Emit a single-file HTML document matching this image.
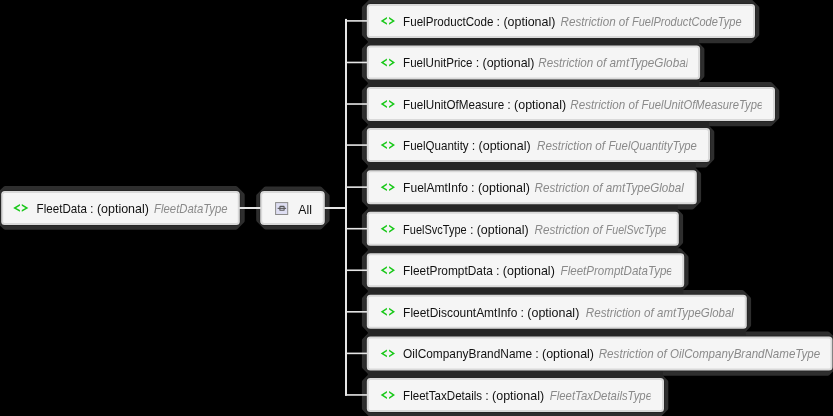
<!DOCTYPE html><html><head><meta charset="utf-8"><style>html,body{margin:0;padding:0;background:#000;width:833px;height:416px;overflow:hidden}svg{display:block;will-change:transform}text{font-family:"Liberation Sans",sans-serif}</style></head><body>
<svg width="833" height="416" viewBox="0 0 833 416">
<rect x="0" y="0" width="833" height="416" fill="#000"/>
<defs>
<clipPath id="c0"><rect x="366.8" y="3.90" width="375.70" height="34.0"/></clipPath>
<clipPath id="c1"><rect x="366.8" y="45.46" width="320.70" height="34.0"/></clipPath>
<clipPath id="c2"><rect x="366.8" y="87.02" width="394.90" height="34.0"/></clipPath>
<clipPath id="c3"><rect x="366.8" y="128.08" width="330.70" height="34.0"/></clipPath>
<clipPath id="c4"><rect x="366.8" y="170.14" width="317.70" height="34.0"/></clipPath>
<clipPath id="c5"><rect x="366.8" y="211.70" width="298.90" height="34.0"/></clipPath>
<clipPath id="c6"><rect x="366.8" y="253.26" width="304.40" height="34.0"/></clipPath>
<clipPath id="c7"><rect x="366.8" y="294.82" width="367.70" height="34.0"/></clipPath>
<clipPath id="c8"><rect x="366.8" y="336.38" width="454.20" height="34.0"/></clipPath>
<clipPath id="c9"><rect x="366.8" y="377.94" width="283.80" height="34.0"/></clipPath>
</defs>
<polygon points="5.33,188.40 235.67,188.40 242.20,194.94 242.20,220.67 235.67,227.20 5.33,227.20 -1.20,220.67 -1.20,194.94" fill="#2e2e2e" stroke="#2e2e2e" stroke-width="5.0" stroke-linejoin="round"/>
<polygon points="265.74,188.90 320.06,188.90 327.10,195.94 327.10,219.87 320.06,226.90 265.74,226.90 258.70,219.87 258.70,195.94" fill="#2e2e2e" stroke="#2e2e2e" stroke-width="5.0" stroke-linejoin="round"/>
<polygon points="370.94,1.50 750.26,1.50 756.80,8.04 756.80,34.16 750.26,40.70 370.94,40.70 364.40,34.16 364.40,8.04" fill="#2e2e2e" stroke="#2e2e2e" stroke-width="5.0" stroke-linejoin="round"/>
<polygon points="370.94,43.06 695.37,43.06 701.90,49.59 701.90,75.73 695.37,82.26 370.94,82.26 364.40,75.73 364.40,49.59" fill="#2e2e2e" stroke="#2e2e2e" stroke-width="5.0" stroke-linejoin="round"/>
<polygon points="370.94,84.62 770.26,84.62 776.80,91.16 776.80,117.29 770.26,123.82 370.94,123.82 364.40,117.29 364.40,91.16" fill="#2e2e2e" stroke="#2e2e2e" stroke-width="5.0" stroke-linejoin="round"/>
<polygon points="370.94,125.68 705.26,125.68 711.80,132.22 711.80,158.35 705.26,164.88 370.94,164.88 364.40,158.35 364.40,132.22" fill="#2e2e2e" stroke="#2e2e2e" stroke-width="5.0" stroke-linejoin="round"/>
<polygon points="370.94,167.74 692.06,167.74 698.60,174.28 698.60,200.41 692.06,206.94 370.94,206.94 364.40,200.41 364.40,174.28" fill="#2e2e2e" stroke="#2e2e2e" stroke-width="5.0" stroke-linejoin="round"/>
<polygon points="370.94,209.30 674.06,209.30 680.60,215.84 680.60,241.97 674.06,248.50 370.94,248.50 364.40,241.97 364.40,215.84" fill="#2e2e2e" stroke="#2e2e2e" stroke-width="5.0" stroke-linejoin="round"/>
<polygon points="370.94,250.86 679.47,250.86 686.00,257.40 686.00,283.52 679.47,290.06 370.94,290.06 364.40,283.52 364.40,257.40" fill="#2e2e2e" stroke="#2e2e2e" stroke-width="5.0" stroke-linejoin="round"/>
<polygon points="370.94,292.42 742.06,292.42 748.60,298.96 748.60,325.08 742.06,331.62 370.94,331.62 364.40,325.08 364.40,298.96" fill="#2e2e2e" stroke="#2e2e2e" stroke-width="5.0" stroke-linejoin="round"/>
<polygon points="370.94,333.98 827.76,333.98 834.30,340.52 834.30,366.64 827.76,373.18 370.94,373.18 364.40,366.64 364.40,340.52" fill="#2e2e2e" stroke="#2e2e2e" stroke-width="5.0" stroke-linejoin="round"/>
<polygon points="370.94,375.54 659.26,375.54 665.80,382.08 665.80,408.20 659.26,414.74 370.94,414.74 364.40,408.20 364.40,382.08" fill="#2e2e2e" stroke="#2e2e2e" stroke-width="5.0" stroke-linejoin="round"/>
<rect x="0.70" y="190.40" width="239.60" height="35.00" rx="4.0" fill="none" stroke="#262626" stroke-width="1"/>
<rect x="259.70" y="190.40" width="65.60" height="35.00" rx="4.5" fill="none" stroke="#262626" stroke-width="1"/>
<rect x="366.30" y="3.40" width="389.20" height="35.00" rx="4.0" fill="none" stroke="#262626" stroke-width="1"/>
<rect x="366.30" y="44.96" width="334.30" height="35.00" rx="4.0" fill="none" stroke="#262626" stroke-width="1"/>
<rect x="366.30" y="86.52" width="409.20" height="35.00" rx="4.0" fill="none" stroke="#262626" stroke-width="1"/>
<rect x="366.30" y="127.58" width="344.20" height="35.00" rx="4.0" fill="none" stroke="#262626" stroke-width="1"/>
<rect x="366.30" y="169.64" width="331.00" height="35.00" rx="4.0" fill="none" stroke="#262626" stroke-width="1"/>
<rect x="366.30" y="211.20" width="313.00" height="35.00" rx="4.0" fill="none" stroke="#262626" stroke-width="1"/>
<rect x="366.30" y="252.76" width="318.40" height="35.00" rx="4.0" fill="none" stroke="#262626" stroke-width="1"/>
<rect x="366.30" y="294.32" width="381.00" height="35.00" rx="4.0" fill="none" stroke="#262626" stroke-width="1"/>
<rect x="366.30" y="335.88" width="466.70" height="35.00" rx="4.0" fill="none" stroke="#262626" stroke-width="1"/>
<rect x="366.30" y="377.44" width="298.20" height="35.00" rx="4.0" fill="none" stroke="#262626" stroke-width="1"/>
<rect x="367.80" y="37.90" width="331.30" height="7.56" fill="#262626"/>
<rect x="367.80" y="79.46" width="331.30" height="7.56" fill="#262626"/>
<rect x="367.80" y="121.02" width="341.20" height="7.06" fill="#262626"/>
<rect x="367.80" y="162.08" width="328.00" height="8.06" fill="#262626"/>
<rect x="367.80" y="204.14" width="310.00" height="7.56" fill="#262626"/>
<rect x="367.80" y="245.70" width="310.00" height="7.56" fill="#262626"/>
<rect x="367.80" y="287.26" width="315.40" height="7.56" fill="#262626"/>
<rect x="367.80" y="328.82" width="378.00" height="7.56" fill="#262626"/>
<rect x="367.80" y="370.38" width="295.20" height="7.56" fill="#262626"/>
<rect x="345" y="18.90" width="2" height="376.84" fill="#e6e6e6"/>
<rect x="238.80" y="207" width="22.40" height="2" fill="#e6e6e6"/>
<rect x="323.80" y="207" width="22.20" height="2" fill="#e6e6e6"/>
<rect x="345" y="20.10" width="22.80" height="1.6" fill="#e6e6e6"/>
<rect x="345" y="61.66" width="22.80" height="1.6" fill="#e6e6e6"/>
<rect x="345" y="103.22" width="22.80" height="1.6" fill="#e6e6e6"/>
<rect x="345" y="144.28" width="22.80" height="1.6" fill="#e6e6e6"/>
<rect x="345" y="186.34" width="22.80" height="1.6" fill="#e6e6e6"/>
<rect x="345" y="227.90" width="22.80" height="1.6" fill="#e6e6e6"/>
<rect x="345" y="269.46" width="22.80" height="1.6" fill="#e6e6e6"/>
<rect x="345" y="311.02" width="22.80" height="1.6" fill="#e6e6e6"/>
<rect x="345" y="352.58" width="22.80" height="1.6" fill="#e6e6e6"/>
<rect x="345" y="394.14" width="22.80" height="1.6" fill="#e6e6e6"/>
<rect x="1.20" y="190.90" width="238.60" height="34.00" rx="3.5" fill="#d9d9d9"/>
<rect x="3.20" y="192.90" width="234.60" height="30.00" rx="1.5" fill="#f5f5f5"/>
<rect x="260.20" y="190.90" width="64.60" height="34.00" rx="4" fill="#d9d9d9"/>
<rect x="262.20" y="192.90" width="60.60" height="30.00" rx="2" fill="#f5f5f5"/>
<rect x="366.80" y="3.90" width="388.20" height="34.00" rx="3.5" fill="#d9d9d9"/>
<rect x="368.80" y="5.90" width="384.20" height="30.00" rx="1.5" fill="#f5f5f5"/>
<rect x="366.80" y="45.46" width="333.30" height="34.00" rx="3.5" fill="#d9d9d9"/>
<rect x="368.80" y="47.46" width="329.30" height="30.00" rx="1.5" fill="#f5f5f5"/>
<rect x="366.80" y="87.02" width="408.20" height="34.00" rx="3.5" fill="#d9d9d9"/>
<rect x="368.80" y="89.02" width="404.20" height="30.00" rx="1.5" fill="#f5f5f5"/>
<rect x="366.80" y="128.08" width="343.20" height="34.00" rx="3.5" fill="#d9d9d9"/>
<rect x="368.80" y="130.08" width="339.20" height="30.00" rx="1.5" fill="#f5f5f5"/>
<rect x="366.80" y="170.14" width="330.00" height="34.00" rx="3.5" fill="#d9d9d9"/>
<rect x="368.80" y="172.14" width="326.00" height="30.00" rx="1.5" fill="#f5f5f5"/>
<rect x="366.80" y="211.70" width="312.00" height="34.00" rx="3.5" fill="#d9d9d9"/>
<rect x="368.80" y="213.70" width="308.00" height="30.00" rx="1.5" fill="#f5f5f5"/>
<rect x="366.80" y="253.26" width="317.40" height="34.00" rx="3.5" fill="#d9d9d9"/>
<rect x="368.80" y="255.26" width="313.40" height="30.00" rx="1.5" fill="#f5f5f5"/>
<rect x="366.80" y="294.82" width="380.00" height="34.00" rx="3.5" fill="#d9d9d9"/>
<rect x="368.80" y="296.82" width="376.00" height="30.00" rx="1.5" fill="#f5f5f5"/>
<rect x="366.80" y="336.38" width="465.70" height="34.00" rx="3.5" fill="#d9d9d9"/>
<rect x="368.80" y="338.38" width="461.70" height="30.00" rx="1.5" fill="#f5f5f5"/>
<rect x="366.80" y="377.94" width="297.20" height="34.00" rx="3.5" fill="#d9d9d9"/>
<rect x="368.80" y="379.94" width="293.20" height="30.00" rx="1.5" fill="#f5f5f5"/>
<polygon points="19.90,203.95 13.20,207.90 19.90,211.85 19.90,210.10 16.17,207.90 19.90,205.70" fill="#18c818"/>
<polygon points="21.80,203.95 28.35,207.90 21.80,211.85 21.80,210.10 25.45,207.90 21.80,205.70" fill="#18c818"/>
<text x="36.60" y="212.90" font-size="12.6" fill="#111" class="r" textLength="50.35" lengthAdjust="spacingAndGlyphs">FleetData</text>
<text x="91.85" y="212.90" font-size="12.6" fill="#111" text-anchor="middle">:</text>
<text x="96.90" y="212.90" font-size="12.6" fill="#111" class="r" textLength="52.00" lengthAdjust="spacingAndGlyphs">(optional)</text>
<text x="154.1" y="212.90" font-size="12.6" font-style="italic" fill="#8a8a8a" textLength="73.50" lengthAdjust="spacingAndGlyphs">FleetDataType</text>
<rect x="275.6" y="202.6" width="12.1" height="11.9" fill="#dedef2" stroke="#8a8a8a" stroke-width="1"/>
<rect x="279.9" y="206.4" width="4.2" height="3.9" rx="0.4" fill="none" stroke="#585858" stroke-width="1.1"/>
<line x1="277.6" y1="208.35" x2="286.1" y2="208.35" stroke="#585858" stroke-width="1.1"/>
<text x="298.3" y="213.90" font-size="12.6" fill="#111" textLength="13.60" lengthAdjust="spacingAndGlyphs">All</text>
<polygon points="386.90,16.95 380.70,20.90 386.90,24.85 386.90,23.10 383.45,20.90 386.90,18.70" fill="#18c818"/>
<polygon points="389.10,16.95 395.00,20.90 389.10,24.85 389.10,23.10 392.39,20.90 389.10,18.70" fill="#18c818"/>
<g clip-path="url(#c0)">
<text x="403.10" y="25.90" font-size="12.6" fill="#111" class="r" textLength="90.35" lengthAdjust="spacingAndGlyphs">FuelProductCode</text>
<text x="498.35" y="25.90" font-size="12.6" fill="#111" text-anchor="middle">:</text>
<text x="503.40" y="25.90" font-size="12.6" fill="#111" class="r" textLength="52.00" lengthAdjust="spacingAndGlyphs">(optional)</text>
<text x="560.60" y="25.90" font-size="12.6" font-style="italic" fill="#8a8a8a" textLength="68.00" lengthAdjust="spacingAndGlyphs">Restriction of</text>
<text x="631.90" y="25.90" font-size="12.6" font-style="italic" fill="#8a8a8a" textLength="109.70" lengthAdjust="spacingAndGlyphs">FuelProductCodeType</text>
</g>
<polygon points="386.90,58.51 380.70,62.46 386.90,66.41 386.90,64.66 383.45,62.46 386.90,60.26" fill="#18c818"/>
<polygon points="389.10,58.51 395.00,62.46 389.10,66.41 389.10,64.66 392.39,62.46 389.10,60.26" fill="#18c818"/>
<g clip-path="url(#c1)">
<text x="403.10" y="67.46" font-size="12.6" fill="#111" class="r" textLength="69.45" lengthAdjust="spacingAndGlyphs">FuelUnitPrice</text>
<text x="477.45" y="67.46" font-size="12.6" fill="#111" text-anchor="middle">:</text>
<text x="482.50" y="67.46" font-size="12.6" fill="#111" class="r" textLength="52.00" lengthAdjust="spacingAndGlyphs">(optional)</text>
<text x="538.30" y="67.46" font-size="12.6" font-style="italic" fill="#8a8a8a" textLength="68.00" lengthAdjust="spacingAndGlyphs">Restriction of</text>
<text x="609.60" y="67.46" font-size="12.6" font-style="italic" fill="#8a8a8a" textLength="78.70" lengthAdjust="spacingAndGlyphs">amtTypeGlobal</text>
</g>
<polygon points="386.90,100.07 380.70,104.02 386.90,107.97 386.90,106.22 383.45,104.02 386.90,101.82" fill="#18c818"/>
<polygon points="389.10,100.07 395.00,104.02 389.10,107.97 389.10,106.22 392.39,104.02 389.10,101.82" fill="#18c818"/>
<g clip-path="url(#c2)">
<text x="403.10" y="109.02" font-size="12.6" fill="#111" class="r" textLength="101.05" lengthAdjust="spacingAndGlyphs">FuelUnitOfMeasure</text>
<text x="509.05" y="109.02" font-size="12.6" fill="#111" text-anchor="middle">:</text>
<text x="514.10" y="109.02" font-size="12.6" fill="#111" class="r" textLength="52.00" lengthAdjust="spacingAndGlyphs">(optional)</text>
<text x="570.30" y="109.02" font-size="12.6" font-style="italic" fill="#8a8a8a" textLength="68.00" lengthAdjust="spacingAndGlyphs">Restriction of</text>
<text x="641.60" y="109.02" font-size="12.6" font-style="italic" fill="#8a8a8a" textLength="121.60" lengthAdjust="spacingAndGlyphs">FuelUnitOfMeasureType</text>
</g>
<polygon points="386.90,141.13 380.70,145.08 386.90,149.03 386.90,147.28 383.45,145.08 386.90,142.88" fill="#18c818"/>
<polygon points="389.10,141.13 395.00,145.08 389.10,149.03 389.10,147.28 392.39,145.08 389.10,142.88" fill="#18c818"/>
<g clip-path="url(#c3)">
<text x="403.10" y="149.58" font-size="12.6" fill="#111" class="r" textLength="65.55" lengthAdjust="spacingAndGlyphs">FuelQuantity</text>
<text x="473.55" y="149.58" font-size="12.6" fill="#111" text-anchor="middle">:</text>
<text x="478.60" y="149.58" font-size="12.6" fill="#111" class="r" textLength="52.00" lengthAdjust="spacingAndGlyphs">(optional)</text>
<text x="537.10" y="149.58" font-size="12.6" font-style="italic" fill="#8a8a8a" textLength="68.00" lengthAdjust="spacingAndGlyphs">Restriction of</text>
<text x="608.40" y="149.58" font-size="12.6" font-style="italic" fill="#8a8a8a" textLength="88.50" lengthAdjust="spacingAndGlyphs">FuelQuantityType</text>
</g>
<polygon points="386.90,183.19 380.70,187.14 386.90,191.09 386.90,189.34 383.45,187.14 386.90,184.94" fill="#18c818"/>
<polygon points="389.10,183.19 395.00,187.14 389.10,191.09 389.10,189.34 392.39,187.14 389.10,184.94" fill="#18c818"/>
<g clip-path="url(#c4)">
<text x="403.10" y="192.14" font-size="12.6" fill="#111" class="r" textLength="64.85" lengthAdjust="spacingAndGlyphs">FuelAmtInfo</text>
<text x="472.85" y="192.14" font-size="12.6" fill="#111" text-anchor="middle">:</text>
<text x="477.90" y="192.14" font-size="12.6" fill="#111" class="r" textLength="52.00" lengthAdjust="spacingAndGlyphs">(optional)</text>
<text x="534.50" y="192.14" font-size="12.6" font-style="italic" fill="#8a8a8a" textLength="68.00" lengthAdjust="spacingAndGlyphs">Restriction of</text>
<text x="605.80" y="192.14" font-size="12.6" font-style="italic" fill="#8a8a8a" textLength="78.10" lengthAdjust="spacingAndGlyphs">amtTypeGlobal</text>
</g>
<polygon points="386.90,224.75 380.70,228.70 386.90,232.65 386.90,230.90 383.45,228.70 386.90,226.50" fill="#18c818"/>
<polygon points="389.10,224.75 395.00,228.70 389.10,232.65 389.10,230.90 392.39,228.70 389.10,226.50" fill="#18c818"/>
<g clip-path="url(#c5)">
<text x="403.10" y="233.70" font-size="12.6" fill="#111" class="r" textLength="63.65" lengthAdjust="spacingAndGlyphs">FuelSvcType</text>
<text x="471.65" y="233.70" font-size="12.6" fill="#111" text-anchor="middle">:</text>
<text x="476.70" y="233.70" font-size="12.6" fill="#111" class="r" textLength="52.00" lengthAdjust="spacingAndGlyphs">(optional)</text>
<text x="534.50" y="233.70" font-size="12.6" font-style="italic" fill="#8a8a8a" textLength="68.00" lengthAdjust="spacingAndGlyphs">Restriction of</text>
<text x="605.80" y="233.70" font-size="12.6" font-style="italic" fill="#8a8a8a" textLength="61.20" lengthAdjust="spacingAndGlyphs">FuelSvcType</text>
</g>
<polygon points="386.90,266.31 380.70,270.26 386.90,274.21 386.90,272.46 383.45,270.26 386.90,268.06" fill="#18c818"/>
<polygon points="389.10,266.31 395.00,270.26 389.10,274.21 389.10,272.46 392.39,270.26 389.10,268.06" fill="#18c818"/>
<g clip-path="url(#c6)">
<text x="403.10" y="275.26" font-size="12.6" fill="#111" class="r" textLength="89.75" lengthAdjust="spacingAndGlyphs">FleetPromptData</text>
<text x="497.75" y="275.26" font-size="12.6" fill="#111" text-anchor="middle">:</text>
<text x="502.80" y="275.26" font-size="12.6" fill="#111" class="r" textLength="52.00" lengthAdjust="spacingAndGlyphs">(optional)</text>
<text x="560.60" y="275.26" font-size="12.6" font-style="italic" fill="#8a8a8a" textLength="112.20" lengthAdjust="spacingAndGlyphs">FleetPromptDataType</text>
</g>
<polygon points="386.90,307.87 380.70,311.82 386.90,315.77 386.90,314.02 383.45,311.82 386.90,309.62" fill="#18c818"/>
<polygon points="389.10,307.87 395.00,311.82 389.10,315.77 389.10,314.02 392.39,311.82 389.10,309.62" fill="#18c818"/>
<g clip-path="url(#c7)">
<text x="403.10" y="316.82" font-size="12.6" fill="#111" class="r" textLength="114.25" lengthAdjust="spacingAndGlyphs">FleetDiscountAmtInfo</text>
<text x="522.25" y="316.82" font-size="12.6" fill="#111" text-anchor="middle">:</text>
<text x="527.30" y="316.82" font-size="12.6" fill="#111" class="r" textLength="52.00" lengthAdjust="spacingAndGlyphs">(optional)</text>
<text x="585.80" y="316.82" font-size="12.6" font-style="italic" fill="#8a8a8a" textLength="68.00" lengthAdjust="spacingAndGlyphs">Restriction of</text>
<text x="657.10" y="316.82" font-size="12.6" font-style="italic" fill="#8a8a8a" textLength="76.80" lengthAdjust="spacingAndGlyphs">amtTypeGlobal</text>
</g>
<polygon points="386.90,349.43 380.70,353.38 386.90,357.33 386.90,355.58 383.45,353.38 386.90,351.18" fill="#18c818"/>
<polygon points="389.10,349.43 395.00,353.38 389.10,357.33 389.10,355.58 392.39,353.38 389.10,351.18" fill="#18c818"/>
<g clip-path="url(#c8)">
<text x="403.10" y="358.38" font-size="12.6" fill="#111" class="r" textLength="128.95" lengthAdjust="spacingAndGlyphs">OilCompanyBrandName</text>
<text x="536.95" y="358.38" font-size="12.6" fill="#111" text-anchor="middle">:</text>
<text x="542.00" y="358.38" font-size="12.6" fill="#111" class="r" textLength="52.00" lengthAdjust="spacingAndGlyphs">(optional)</text>
<text x="598.70" y="358.38" font-size="12.6" font-style="italic" fill="#8a8a8a" textLength="68.00" lengthAdjust="spacingAndGlyphs">Restriction of</text>
<text x="670.00" y="358.38" font-size="12.6" font-style="italic" fill="#8a8a8a" textLength="150.20" lengthAdjust="spacingAndGlyphs">OilCompanyBrandNameType</text>
</g>
<polygon points="386.90,390.99 380.70,394.94 386.90,398.89 386.90,397.14 383.45,394.94 386.90,392.74" fill="#18c818"/>
<polygon points="389.10,390.99 395.00,394.94 389.10,398.89 389.10,397.14 392.39,394.94 389.10,392.74" fill="#18c818"/>
<g clip-path="url(#c9)">
<text x="403.10" y="399.94" font-size="12.6" fill="#111" class="r" textLength="79.05" lengthAdjust="spacingAndGlyphs">FleetTaxDetails</text>
<text x="487.05" y="399.94" font-size="12.6" fill="#111" text-anchor="middle">:</text>
<text x="492.10" y="399.94" font-size="12.6" fill="#111" class="r" textLength="52.00" lengthAdjust="spacingAndGlyphs">(optional)</text>
<text x="549.80" y="399.94" font-size="12.6" font-style="italic" fill="#8a8a8a" textLength="102.20" lengthAdjust="spacingAndGlyphs">FleetTaxDetailsType</text>
</g>
</svg></body></html>
